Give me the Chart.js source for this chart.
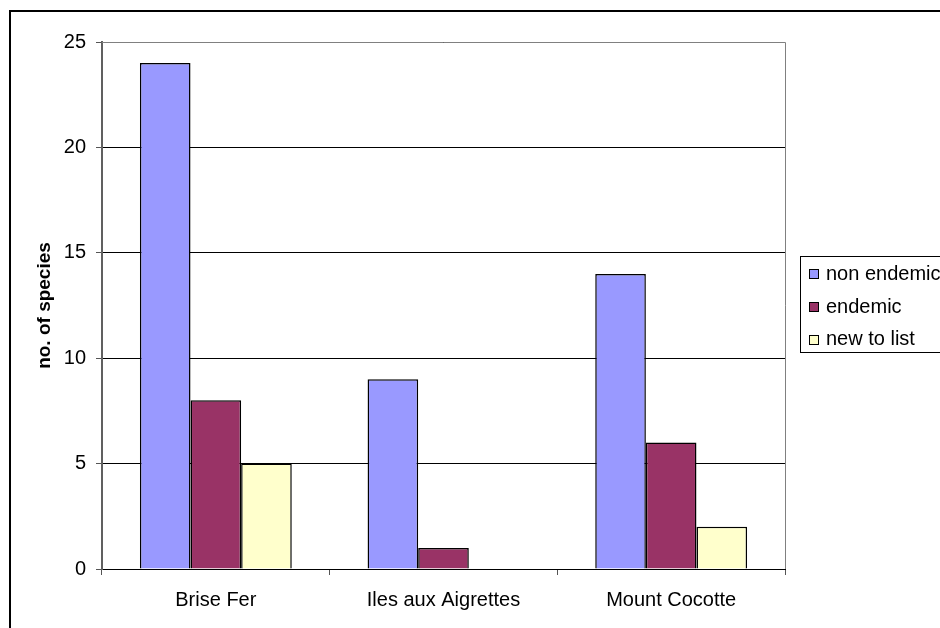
<!DOCTYPE html>
<html>
<head>
<meta charset="utf-8">
<script src="https://cdn.jsdelivr.net/npm/chart.js@4"></script>
<style>
  html, body { margin: 0; padding: 0; background: #fff; }
  canvas { display: block; }
</style>
</head>
<body>
<canvas id="speciesChart" width="940" height="628"></canvas>
<script>
// data
const categories = ['Brise Fer', 'Iles aux Aigrettes', 'Mount Cocotte'];
const nonEndemic = [24, 9, 14];
const endemic = [8, 1, 6];
const newToList = [5, 0, 2];
const yTicks = [0, 5, 10, 15, 20, 25];

const COLORS = { blue: '#9999ff', plum: '#993366', cream: '#ffffcc' };
const FONT = 'Arial, "Liberation Sans", sans-serif';

Chart.defaults.font.family = FONT;
Chart.defaults.font.size = 20;
Chart.defaults.color = '#000';

// outer frame, plot border and the boxed legend on the right
const frameAndLegend = {
    id: 'frameAndLegend',
    beforeDraw(chart) {
        const c = chart.ctx;
        c.save();
        c.fillStyle = '#fff';
        c.fillRect(0, 0, chart.width, chart.height);
        c.restore();
    },
    afterDraw(chart) {
        const c = chart.ctx;
        const a = chart.chartArea;
        c.save();
        // plot area border (top and right; axes drawn by scales)
        c.strokeStyle = '#808080';
        c.lineWidth = 1;
        c.beginPath();
        c.moveTo(a.left, a.top + 0.5);
        c.lineTo(a.right + 0.5, a.top + 0.5);
        c.lineTo(a.right + 0.5, a.bottom);
        c.stroke();

        // outer chart frame
        c.strokeStyle = '#000';
        c.lineWidth = 2;
        c.strokeRect(10, 11, 1000, 1000);

        // legend box
        c.lineWidth = 1;
        c.strokeRect(800.5, 256.5, 200, 96);
        c.font = '20px ' + FONT;
        c.textBaseline = 'alphabetic';
        c.textAlign = 'left';
        const marks = [274, 307, 340];
        const bases = [280, 313, 345];
        chart.data.datasets.forEach((ds, i) => {
            const y = marks[i];
            c.fillStyle = ds.backgroundColor;
            c.fillRect(809.5, y - 4.5, 9, 9);
            c.strokeStyle = '#000';
            c.strokeRect(809.5, y - 4.5, 9, 9);
            c.fillStyle = '#000';
            c.fillText(ds.label, 826, bases[i]);
        });
        c.restore();
    }
};

new Chart(document.getElementById('speciesChart'), {
    type: 'bar',
    data: {
        labels: categories,
        datasets: [
            { label: 'non endemic', data: nonEndemic, backgroundColor: COLORS.blue, borderColor: '#000', borderWidth: 1.5 },
            { label: 'endemic', data: endemic, backgroundColor: COLORS.plum, borderColor: '#000', borderWidth: 1.5 },
            { label: 'new to list', data: newToList, backgroundColor: COLORS.cream, borderColor: '#000', borderWidth: 1.5 }
        ]
    },
    options: {
        responsive: false,
        animation: false,
        layout: { padding: { left: 0, top: 42, right: 155, bottom: 0 } },
        datasets: { bar: { categoryPercentage: 0.667, barPercentage: 1 } },
        plugins: { legend: { display: false }, tooltip: { enabled: false } },
        scales: {
            x: {
                grid: { display: true, drawOnChartArea: false, drawTicks: true, tickLength: 6, color: '#555' },
                border: { color: '#000', width: 1 },
                ticks: { color: '#000', padding: 13, font: { size: 20 } },
                afterFit: s => { s.height = 59; }
            },
            y: {
                min: 0, max: 25,
                afterBuildTicks: s => { s.ticks = yTicks.map(v => ({ value: v })); },
                grid: { color: '#000', tickLength: 6, tickColor: '#555' },
                border: { color: '#606060', width: 2 },
                ticks: { color: '#000', padding: 10, font: { size: 20 } },
                title: { display: true, text: 'no. of species', color: '#000', font: { size: 19, weight: 'bold' }, padding: { top: 33, bottom: 0 } },
                afterFit: s => { s.width = 102; }
            }
        }
    },
    plugins: [frameAndLegend]
});
</script>
</body>
</html>
